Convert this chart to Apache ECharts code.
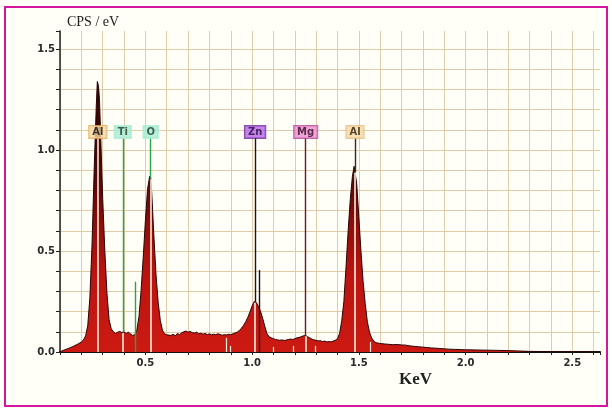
<!DOCTYPE html>
<html>
<head>
<meta charset="utf-8">
<script src="https://cdn.jsdelivr.net/npm/echarts@6/dist/echarts.min.js"></script>
<style>
html,body{margin:0;padding:0;background:#fffef7;}
#c{width:612px;height:408px;}
</style>
</head>
<body>
<div id="c"></div>
<script>
// ---- data ----
const energy = [
  0.10,0.11,0.12,0.13,0.14,0.15,0.16,0.17,0.18,0.19,
  0.20,0.21,0.22,0.23,0.24,0.25,0.26,0.27,0.275,0.28,
  0.285,0.29,0.30,0.31,0.32,0.33,0.34,0.35,0.36,0.37,
  0.38,0.39,0.40,0.41,0.42,0.43,0.44,0.45,0.46,0.47,
  0.48,0.49,0.50,0.51,0.52,0.525,0.53,0.54,0.55,0.56,
  0.57,0.58,0.59,0.60,0.62,0.63,0.64,0.65,0.66,0.67,
  0.68,0.69,0.70,0.71,0.72,0.73,0.74,0.75,0.76,0.77,
  0.78,0.79,0.80,0.81,0.82,0.83,0.84,0.85,0.86,0.87,
  0.88,0.89,0.90,0.91,0.92,0.93,0.94,0.95,0.96,0.97,
  0.98,0.99,1.00,1.01,1.02,1.03,1.04,1.05,1.06,1.07,
  1.08,1.09,1.10,1.11,1.12,1.13,1.14,1.15,1.16,1.17,
  1.18,1.19,1.20,1.21,1.22,1.23,1.24,1.25,1.26,1.27,
  1.28,1.29,1.30,1.31,1.32,1.33,1.34,1.35,1.36,1.37,
  1.38,1.39,1.40,1.41,1.42,1.43,1.44,1.45,1.46,1.47,
  1.478,1.49,1.50,1.51,1.52,1.53,1.54,1.55,1.56,1.57,
  1.58,1.60,1.62,1.64,1.66,1.68,1.70,1.72,1.74,1.76,
  1.78,1.80,1.82,1.84,1.86,1.88,1.90,1.92,1.95,2.00,
  2.05,2.10,2.15,2.20,2.25,2.30,2.40,2.50,2.60,2.63
];
const cps = [
  0.000,0.006,0.010,0.014,0.018,0.022,0.027,0.032,0.037,0.043,
  0.050,0.060,0.080,0.130,0.270,0.530,0.900,1.220,1.340,1.320,
  1.250,1.090,0.760,0.500,0.290,0.160,0.115,0.100,0.092,0.098,
  0.102,0.096,0.100,0.092,0.098,0.090,0.082,0.085,0.108,0.175,
  0.305,0.470,0.650,0.805,0.870,0.860,0.785,0.570,0.380,0.245,
  0.155,0.108,0.090,0.085,0.082,0.088,0.080,0.092,0.086,0.095,
  0.100,0.104,0.098,0.102,0.096,0.094,0.098,0.090,0.093,0.088,
  0.092,0.086,0.090,0.085,0.088,0.086,0.090,0.087,0.083,0.086,
  0.084,0.088,0.086,0.090,0.094,0.098,0.106,0.118,0.132,0.150,
  0.172,0.198,0.228,0.250,0.245,0.225,0.200,0.165,0.125,0.090,
  0.075,0.070,0.066,0.062,0.060,0.058,0.060,0.057,0.059,0.062,
  0.064,0.062,0.066,0.070,0.072,0.076,0.080,0.082,0.076,0.070,
  0.064,0.060,0.058,0.055,0.056,0.052,0.054,0.050,0.052,0.050,
  0.054,0.058,0.066,0.092,0.155,0.250,0.420,0.600,0.755,0.870,
  0.920,0.835,0.670,0.500,0.350,0.240,0.150,0.098,0.070,0.054,
  0.046,0.042,0.040,0.038,0.036,0.037,0.035,0.034,0.030,0.028,
  0.026,0.024,0.022,0.020,0.019,0.017,0.016,0.014,0.013,0.011,
  0.010,0.009,0.008,0.007,0.005,0.003,0.002,0.001,0.000,0.000
];
const elementNames    = ['Al', 'Ti', 'O', 'Zn', 'Mg', 'Al'];
const elementEnergies = [0.277, 0.394, 0.525, 1.014, 1.251, 1.482];
const spikeEnergies   = [0.451, 1.034];
const spikeHeights    = [0.348, 0.406];
const artifactEnergies = [0.877, 0.899, 1.100, 1.192, 1.295, 1.553];
const artifactHeights  = [0.070, 0.030, 0.025, 0.030, 0.030, 0.050];
const xTickLabels = ['0.5', '1.0', '1.5', '2.0', '2.5'];
const yTickLabels = ['0.0', '0.5', '1.0', '1.5'];

// ---- styles ----
const LABEL_LEVEL = 1.09, LINE_TOP = 1.06;
const elementStyles = [
  {line:'#f4ead6', bg:'#f6d8a4', border:'#e8a858', text:'#111'},
  {line:'#22a84a', bg:'#a8ecd2', border:'#a8ecd2', text:'#1b3b2b'},
  {line:'#22a84a', bg:'#a8ecd2', border:'#a8ecd2', text:'#1b3b2b'},
  {line:'#141430', bg:'#b466e6', border:'#6a2a92', text:'#2a0a42'},
  {line:'#6a1838', bg:'#ea8fd0', border:'#b64496', text:'#3a0a2a'},
  {line:'#3a2a20', bg:'#f6d8a4', border:'#e6bc80', text:'#2a1a0a'}
];
const spikeColors = ['#22a84a', '#141414'];
const CREAM = '#f6eedc';

function valueAt(e) {
  for (let i = 1; i < energy.length; i++) {
    if (e <= energy[i]) {
      const t = (e - energy[i-1]) / (energy[i] - energy[i-1]);
      return cps[i-1] + t * (cps[i] - cps[i-1]);
    }
  }
  return 0;
}

const markData = [];
elementEnergies.forEach((e, i) => {
  const v = valueAt(e);
  const innerTop = Math.min(v, LINE_TOP) - 0.004;
  markData.push([{coord:[e, 0], lineStyle:{color:CREAM, width:1.6, type:'solid'}}, {coord:[e, innerTop]}]);
  if (v < LINE_TOP) {
    markData.push([{coord:[e, v], lineStyle:{color:elementStyles[i].line, width:1.4, type:'solid'}}, {coord:[e, LINE_TOP]}]);
  }
});
spikeEnergies.forEach((e, i) => {
  markData.push([{coord:[e, 0], lineStyle:{color:spikeColors[i], width:1.4, type:'solid'}}, {coord:[e, spikeHeights[i]]}]);
});
artifactEnergies.forEach((e, i) => {
  markData.push([{coord:[e, 0], lineStyle:{color:CREAM, width:1.2, type:'solid'}}, {coord:[e, artifactHeights[i]]}]);
});

const labelData = elementNames.map((n, i) => ({
  value: [elementEnergies[i], LABEL_LEVEL],
  name: n,
  label: {
    show: true, position: 'inside', formatter: n,
    backgroundColor: elementStyles[i].bg,
    borderColor: elementStyles[i].border, borderWidth: 1,
    color: elementStyles[i].text,
    padding: [1, 3, 0, 3],
    fontFamily: 'DejaVu Sans', fontWeight: 'bold', fontSize: 10, lineHeight: 11
  }
}));

const chart = echarts.init(document.getElementById('c'), null, {renderer:'canvas'});
chart.setOption({
  animation: false,
  backgroundColor: '#fffef7',
  title: [
    {text:'CPS / eV', left:67, top:15, padding:0,
     textStyle:{fontFamily:'Liberation Serif', fontSize:14, fontWeight:'normal', color:'#222'}},
    {text:'KeV', left:399, top:371, padding:0,
     textStyle:{fontFamily:'Liberation Serif', fontSize:17, fontWeight:'bold', color:'#222'}}
  ],
  graphic: [{
    type:'rect', shape:{x:5, y:7, width:602, height:399},
    style:{fill:'none', stroke:'#d3159f', lineWidth:2}, silent:true
  }],
  grid: {left:60, right:12, top:31, bottom:56, containLabel:false},
  xAxis: {
    type:'value', min:0.1, max:2.63, interval:0.1,
    axisLine:{show:true, onZero:false, lineStyle:{color:'#111', width:2}},
    axisTick:{show:true, length:3, lineStyle:{color:'#222', width:1}},
    axisLabel:{
      margin:6, color:'#2a2a2a', fontFamily:'DejaVu Sans', fontWeight:'bold', fontSize:10,
      formatter: v => { const s = v.toFixed(1); return xTickLabels.includes(s) && Math.abs(v*10 - Math.round(v*10)) < 1e-6 ? s : ''; }
    },
    splitLine:{show:true, showMaxLine:false, lineStyle:{color:'#e0cca8', width:1}}
  },
  yAxis: {
    type:'value', min:0, max:1.59, interval:0.1,
    axisLine:{show:true, onZero:false, lineStyle:{color:'#222', width:1.5}},
    axisTick:{show:true, length:4, lineStyle:{color:'#222', width:1}},
    axisLabel:{
      margin:5, color:'#2a2a2a', fontFamily:'DejaVu Sans', fontWeight:'bold', fontSize:10,
      formatter: v => { const s = v.toFixed(1); return yTickLabels.includes(s) && Math.abs(v*10 - Math.round(v*10)) < 1e-6 ? s : ''; }
    },
    splitLine:{show:true, showMaxLine:false, lineStyle:{color:'#e0cca8', width:1}}
  },
  series: [
    {
      type:'line',
      data: energy.map((e, i) => [e, cps[i]]),
      showSymbol:false, symbol:'none', smooth:false,
      lineStyle:{color:'#2a0404', width:1},
      areaStyle:{
        opacity:1,
        color: new echarts.graphic.LinearGradient(0, 0, 0, 1, [
          {offset:0, color:'#2e0404'},
          {offset:0.35, color:'#520707'},
          {offset:0.55, color:'#940e0b'},
          {offset:0.72, color:'#bc1410'},
          {offset:1, color:'#cc1a12'}
        ])
      },
      markLine:{
        silent:true, animation:false, symbol:['none','none'],
        label:{show:false}, emphasis:{disabled:true},
        data: markData
      },
      z:2
    },
    {
      type:'scatter',
      data: labelData,
      symbolSize:0,
      silent:true,
      z:5
    }
  ]
});
</script>
</body>
</html>
